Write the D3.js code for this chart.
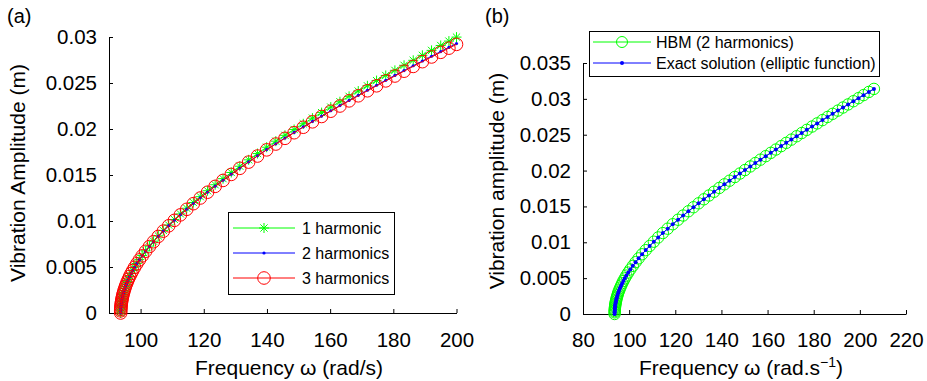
<!DOCTYPE html>
<html><head><meta charset="utf-8">
<script src="https://cdn.jsdelivr.net/npm/d3@7"></script>
<style>
body{margin:0;background:#fff;}
svg{display:block;font-family:"Liberation Sans",Arial,sans-serif;}
</style></head>
<body><svg id="c" width="927" height="381"></svg>
<script>
// ---------- Panel (a) data ----------
const freqA = [93.70, 93.71, 93.73, 93.76, 93.80, 93.85, 93.91, 93.98, 94.06, 94.16, 94.28, 94.42, 94.58, 94.76, 94.97, 95.21, 95.48, 95.79, 96.14, 96.54,
  97.0, 97.5, 98.1, 98.8, 99.6, 100.5, 101.6, 102.8, 104.1, 105.6, 107.2, 108.9,
  110.7, 112.6, 114.6, 116.7, 118.9, 121.2, 123.6, 126.1, 128.7, 131.4, 134.2, 137.0, 139.9,
  142.8, 145.7, 148.6, 151.5, 154.4, 157.3, 160.2, 163.1, 166.0, 168.9, 171.8, 174.7, 177.6, 180.5, 183.4, 186.3, 189.2, 192.1, 195.0, 197.6, 200.0];
const amp1Harm = [0, 0.000234, 0.000405, 0.000574, 0.000740, 0.000908, 0.001074, 0.001241, 0.001408, 0.001592, 0.001789, 0.001993, 0.002205, 0.002422, 0.002653, 0.002895, 0.003146, 0.003412, 0.003691, 0.003988,
  0.004304, 0.004625, 0.004987, 0.005380, 0.005801, 0.006245, 0.006753, 0.007273, 0.007804, 0.008384, 0.008970, 0.009563,
  0.010162, 0.010771, 0.011386, 0.012011, 0.012644, 0.013287, 0.013939, 0.014601, 0.015273, 0.015956, 0.016649, 0.017330, 0.018023,
  0.018677, 0.019318, 0.019948, 0.020568, 0.021180, 0.021783, 0.022378, 0.022967, 0.023549, 0.024124, 0.024695, 0.025260, 0.025818, 0.026373, 0.026923, 0.027467, 0.028008, 0.028546, 0.029079, 0.029554, 0.029989];
const amp2Harm = [0, 0.000234, 0.000405, 0.000574, 0.000740, 0.000907, 0.001073, 0.001240, 0.001406, 0.001590, 0.001786, 0.001990, 0.002201, 0.002417, 0.002647, 0.002888, 0.003138, 0.003403, 0.003680, 0.003975,
  0.004289, 0.004608, 0.004967, 0.005357, 0.005774, 0.006213, 0.006716, 0.007230, 0.007755, 0.008327, 0.008905, 0.009489,
  0.010079, 0.010677, 0.011282, 0.011895, 0.012516, 0.013145, 0.013783, 0.014430, 0.015086, 0.015752, 0.016428, 0.017090, 0.017764,
  0.018399, 0.019021, 0.019632, 0.020232, 0.020824, 0.021407, 0.021982, 0.022550, 0.023111, 0.023665, 0.024214, 0.024757, 0.025293, 0.025826, 0.026353, 0.026875, 0.027393, 0.027907, 0.028417, 0.028870, 0.029286];
const amp3Harm = [0, 0.000234, 0.000405, 0.000574, 0.000740, 0.000907, 0.001073, 0.001240, 0.001406, 0.001590, 0.001786, 0.001990, 0.002200, 0.002416, 0.002646, 0.002887, 0.003137, 0.003402, 0.003679, 0.003973,
  0.004287, 0.004606, 0.004965, 0.005354, 0.005771, 0.006209, 0.006711, 0.007225, 0.007749, 0.008320, 0.008897, 0.009480,
  0.010069, 0.010666, 0.011269, 0.011881, 0.012500, 0.013128, 0.013764, 0.014409, 0.015063, 0.015727, 0.016401, 0.017061, 0.017732,
  0.018365, 0.018985, 0.019593, 0.020191, 0.020781, 0.021361, 0.021934, 0.022499, 0.023058, 0.023609, 0.024155, 0.024696, 0.025229, 0.025759, 0.026284, 0.026803, 0.027318, 0.027829, 0.028336, 0.028787, 0.029200];
const xTicksA = [100, 120, 140, 160, 180, 200];
const yTicksA = [0, 0.005, 0.01, 0.015, 0.02, 0.025, 0.03];
const legendA = ["1 harmonic", "2 harmonics", "3 harmonics"];

// ---------- Panel (b) data ----------
const freqB = [93.70, 93.71, 93.73, 93.76, 93.80, 93.85, 93.91, 93.98, 94.06, 94.16, 94.28, 94.42, 94.58, 94.76, 94.97, 95.21, 95.48, 95.79, 96.14, 96.54,
  97.0, 97.5, 98.1, 98.8, 99.6, 100.5, 101.6, 102.8, 104.1, 105.6, 107.2, 108.9, 110.7, 112.6, 114.6, 116.7, 118.9,
  121.2, 123.4, 125.7, 127.9, 130.1, 132.4, 134.6, 136.8, 139.1, 141.3, 143.5, 145.8, 148.0, 150.2, 152.5, 154.7, 156.9, 159.2, 161.4, 163.6,
  165.9, 168.1, 170.3, 172.6, 174.8, 177.0, 179.3, 181.5, 183.8, 186.0, 188.2, 190.5, 192.7, 194.9, 197.2, 199.4, 201.6, 203.9, 206.1];
const ampHBM = [0, 0.000234, 0.000405, 0.000574, 0.000740, 0.000907, 0.001073, 0.001240, 0.001406, 0.001590, 0.001786, 0.001990, 0.002201, 0.002417, 0.002647, 0.002888, 0.003138, 0.003403, 0.003680, 0.003975,
  0.004289, 0.004608, 0.004967, 0.005357, 0.005774, 0.006213, 0.006716, 0.007230, 0.007755, 0.008327, 0.008905, 0.009489, 0.010079, 0.010677, 0.011282, 0.011895, 0.012516,
  0.013145, 0.013730, 0.014327, 0.014886, 0.015433, 0.015995, 0.016523, 0.017043, 0.017579, 0.018085, 0.018585, 0.019101, 0.019589, 0.020073, 0.020574, 0.021049, 0.021520, 0.022008, 0.022472, 0.022932,
  0.023410, 0.023865, 0.024316, 0.024786, 0.025233, 0.025677, 0.026140, 0.026580, 0.027038, 0.027475, 0.027909, 0.028362, 0.028793, 0.029223, 0.029671, 0.030098, 0.030523, 0.030966, 0.031389];
const ampExact = [0, 0.00023, 0.00041, 0.00057, 0.00074, 0.00091, 0.00107, 0.00124, 0.00141, 0.00159, 0.00179, 0.00199, 0.00220, 0.00242, 0.00265, 0.00289, 0.00314, 0.00340, 0.00368, 0.00398,
  0.00429, 0.00461, 0.00497, 0.00536, 0.00577, 0.00621, 0.00672, 0.00723, 0.00776, 0.00833, 0.00891, 0.00949, 0.01008, 0.01068, 0.01128, 0.01190, 0.01252,
  0.01315, 0.01373, 0.01433, 0.01489, 0.01543, 0.01600, 0.01652, 0.01704, 0.01758, 0.01809, 0.01859, 0.01910, 0.01959, 0.02007, 0.02057, 0.02105, 0.02152, 0.02201, 0.02247, 0.02293,
  0.02341, 0.02387, 0.02432, 0.02479, 0.02523, 0.02568, 0.02614, 0.02658, 0.02704, 0.02748, 0.02791, 0.02836, 0.02879, 0.02922, 0.02967, 0.03010, 0.03052, 0.03097, 0.03139];
const xTicksB = [80, 100, 120, 140, 160, 180, 200, 220];
const yTicksB = [0, 0.005, 0.01, 0.015, 0.02, 0.025, 0.03, 0.035];
const legendB = ["HBM (2 harmonics)", "Exact solution (elliptic function)"];

const GREEN = "#00ff00", BLUE = "#0000ff", RED = "#ff0000";
const svg = d3.select("#c");
const fmt = d => d === 0 ? "0" : String(+d.toFixed(3));
const FS = 20.5;

function starPath(r) {
  const d = r * 0.72;
  return `M${-r},0L${r},0M0,${-r}L0,${r}M${-d},${-d}L${d},${d}M${-d},${d}L${d},${-d}`;
}

function panel(o) {
  const x = d3.scaleLinear().domain(o.xDomain).range(o.xRange);
  const y = d3.scaleLinear().domain(o.yDomain).range(o.yRange);
  const g = svg.append("g");
  const ax = g.append("g").attr("transform", `translate(0,${o.yRange[0]})`)
    .call(d3.axisBottom(x).tickValues(o.xTicks).tickSize(-4).tickSizeOuter(0).tickPadding(o.xPad).tickFormat(d3.format("d")));
  const ay = g.append("g").attr("transform", `translate(${o.xRange[0]},0)`)
    .call(d3.axisLeft(y).tickValues(o.yTicks).tickSize(-4).tickSizeOuter(0).tickPadding(12).tickFormat(fmt));
  [ax, ay].forEach(a => {
    a.selectAll("text").attr("font-size", FS).attr("fill", "#000").attr("font-family", '"Liberation Sans",Arial,sans-serif');
    a.selectAll("line,path").attr("stroke", "#000").attr("stroke-width", 1);
  });
  return { x, y, g };
}

function series(p, xs, ys, color, marker, lw) {
  const pts = xs.map((v, i) => [p.x(v), p.y(ys[i])]);
  p.g.append("path").attr("d", d3.line()(pts)).attr("fill", "none").attr("stroke", color).attr("stroke-width", lw || 1);
  const m = p.g.append("g");
  pts.forEach(([px, py]) => drawMarker(m, px, py, color, marker));
}

function drawMarker(g, px, py, color, marker) {
  if (marker.type === "circle") {
    g.append("circle").attr("cx", px).attr("cy", py).attr("r", marker.r).attr("fill", "none").attr("stroke", color).attr("stroke-width", 1);
  } else if (marker.type === "dot") {
    g.append("circle").attr("cx", px).attr("cy", py).attr("r", marker.r).attr("fill", color);
  } else if (marker.type === "star") {
    g.append("path").attr("transform", `translate(${px},${py})`).attr("d", starPath(marker.r)).attr("stroke", color).attr("stroke-width", 1).attr("fill", "none");
  }
}

// ---- Panel (a)
const pA = panel({ xDomain: [90, 200], xRange: [109, 456.5], yDomain: [0, 0.03], yRange: [313, 37], xTicks: xTicksA, yTicks: yTicksA, xPad: 19 });
series(pA, freqA, amp1Harm, GREEN, { type: "star", r: 5 });
series(pA, freqA, amp2Harm, BLUE, { type: "dot", r: 1.6 });
series(pA, freqA, amp3Harm, RED, { type: "circle", r: 6.3 });

// ---- Panel (b)
const pB = panel({ xDomain: [80, 220], xRange: [583, 906], yDomain: [0, 0.035], yRange: [314, 63], xTicks: xTicksB, yTicks: yTicksB, xPad: 18.5 });
series(pB, freqB, ampHBM, GREEN, { type: "circle", r: 5.7 });
series(pB, freqB, ampExact, BLUE, { type: "dot", r: 2 });

// ---- Titles
svg.append("text").attr("x", 7).attr("y", 23).attr("font-size", 20).text("(a)");
svg.append("text").attr("x", 485).attr("y", 23).attr("font-size", 20).text("(b)");
svg.append("text").attr("transform", "translate(25,173) rotate(-90)").attr("text-anchor", "middle").attr("font-size", 21).text("Vibration Amplitude (m)");
svg.append("text").attr("transform", "translate(504,181) rotate(-90)").attr("text-anchor", "middle").attr("font-size", 21).text("Vibration amplitude (m)");
svg.append("text").attr("x", 289).attr("y", 375).attr("text-anchor", "middle").attr("font-size", 21).text("Frequency ω (rad/s)");
const xtB = svg.append("text").attr("x", 741).attr("y", 375).attr("text-anchor", "middle").attr("font-size", 21);
xtB.append("tspan").text("Frequency ω (rad.s");
xtB.append("tspan").attr("dy", -8).attr("font-size", 14).text("−1");
xtB.append("tspan").attr("dy", 8).text(")");

// ---- Legends
function legend(box, rows, items, lx0, lx1, tx) {
  svg.append("rect").attr("x", box[0]).attr("y", box[1]).attr("width", box[2] - box[0]).attr("height", box[3] - box[1])
    .attr("fill", "#fff").attr("stroke", "#000").attr("stroke-width", 1);
  items.forEach((it, i) => {
    const yy = rows[i];
    svg.append("line").attr("x1", lx0).attr("x2", lx1).attr("y1", yy).attr("y2", yy).attr("stroke", it.color).attr("stroke-width", 1);
    drawMarker(svg, (lx0 + lx1) / 2, yy, it.color, it.marker);
    svg.append("text").attr("x", tx).attr("y", yy).attr("dy", "0.35em").attr("font-size", 16).text(it.label);
  });
}
legend([228.5, 212.5, 394.5, 294.5], [228, 253, 278], [
  { label: legendA[0], color: GREEN, marker: { type: "star", r: 5 } },
  { label: legendA[1], color: BLUE, marker: { type: "dot", r: 1.6 } },
  { label: legendA[2], color: RED, marker: { type: "circle", r: 6.3 } }
], 233, 295, 302);
legend([589.5, 31.5, 879.5, 76.5], [42, 63], [
  { label: legendB[0], color: GREEN, marker: { type: "circle", r: 5.5 } },
  { label: legendB[1], color: BLUE, marker: { type: "dot", r: 2 } }
], 593, 651, 656);
</script></body></html>
